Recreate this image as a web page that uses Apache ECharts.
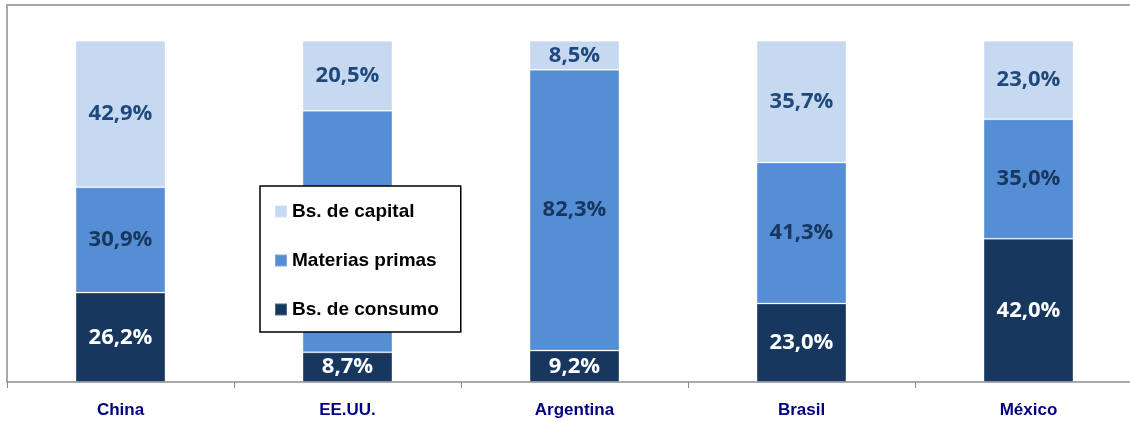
<!DOCTYPE html>
<html>
<head>
<meta charset="utf-8">
<script src="https://cdn.jsdelivr.net/npm/echarts@6/dist/echarts.min.js"></script>
<style>
html, body { margin: 0; padding: 0; background: #fff; overflow: hidden; }
#chart { width: 1142px; height: 422px; }
</style>
</head>
<body>
<div id="chart"></div>
<script>
var categories = ['China', 'EE.UU.', 'Argentina', 'Brasil', 'México'];
var consumo = [26.2, 8.7, 9.2, 23.0, 42.0];
var materias = [30.9, 70.8, 82.3, 41.3, 35.0];
var capital = [42.9, 20.5, 8.5, 35.7, 23.0];

var labelFont = '"Open Sans", "DejaVu Sans", sans-serif';
var textFont = '"Liberation Sans Narrow", "Liberation Sans", Arial, sans-serif';
var frameColor = '#8c8c8c';

function pct(p) {
	return p.value.toFixed(1).replace('.', ',') + '%';
}

function makeSeries(name, data, color, textColor) {
	return {
		name: name,
		type: 'bar',
		stack: 'total',
		barWidth: '39.6%',
		data: data,
		itemStyle: { color: color, borderColor: 'rgba(255,255,255,0.25)', borderWidth: 1 },
		label: {
			show: true,
			position: 'inside',
			formatter: pct,
			color: textColor,
			fontFamily: labelFont,
			fontWeight: 'bold',
			fontSize: 22
		},
		emphasis: { disabled: true }
	};
}

var chart = echarts.init(document.getElementById('chart'));
var option = {
	animation: false,
	grid: {
		left: 7,
		right: 0,
		top: 5,
		bottom: 40
	},
	legend: {
		data: ['Bs. de capital', 'Materias primas', 'Bs. de consumo'],
		orient: 'vertical',
		left: 260,
		top: 186,
		padding: [16, 22, 13, 14],
		itemGap: 30,
		itemWidth: 12,
		itemHeight: 12,
		icon: 'rect',
		backgroundColor: '#fff',
		borderColor: '#000',
		borderWidth: 1.5,
		textStyle: {
			color: '#000',
			fontFamily: textFont,
			fontWeight: 'bold',
			fontSize: 19
		}
	},
	xAxis: [{
		type: 'category',
		data: categories,
		axisLine: { lineStyle: { color: frameColor, width: 1.5 } },
		axisTick: { show: true, length: 6, lineStyle: { color: frameColor } },
		axisLabel: {
			margin: 20,
			color: '#000080',
			fontFamily: textFont,
			fontWeight: 'bold',
			fontSize: 17
		}
	}, {
		// top frame line only
		type: 'category',
		position: 'top',
		data: categories,
		axisLine: { lineStyle: { color: frameColor, width: 1.5 } },
		axisTick: { show: false },
		axisLabel: { show: false }
	}],
	yAxis: {
		type: 'value',
		min: 0,
		max: 110.5,
		axisLine: { show: true, lineStyle: { color: frameColor, width: 1.5 } },
		axisTick: { show: false },
		axisLabel: { show: false },
		splitLine: { show: false }
	},
	series: [
		makeSeries('Bs. de consumo', consumo, '#17375e', '#ffffff'),
		makeSeries('Materias primas', materias, '#558ed5', '#17375e'),
		makeSeries('Bs. de capital', capital, '#c6d9f1', '#1f497d')
	]
};
chart.setOption(option);
</script>
</body>
</html>
